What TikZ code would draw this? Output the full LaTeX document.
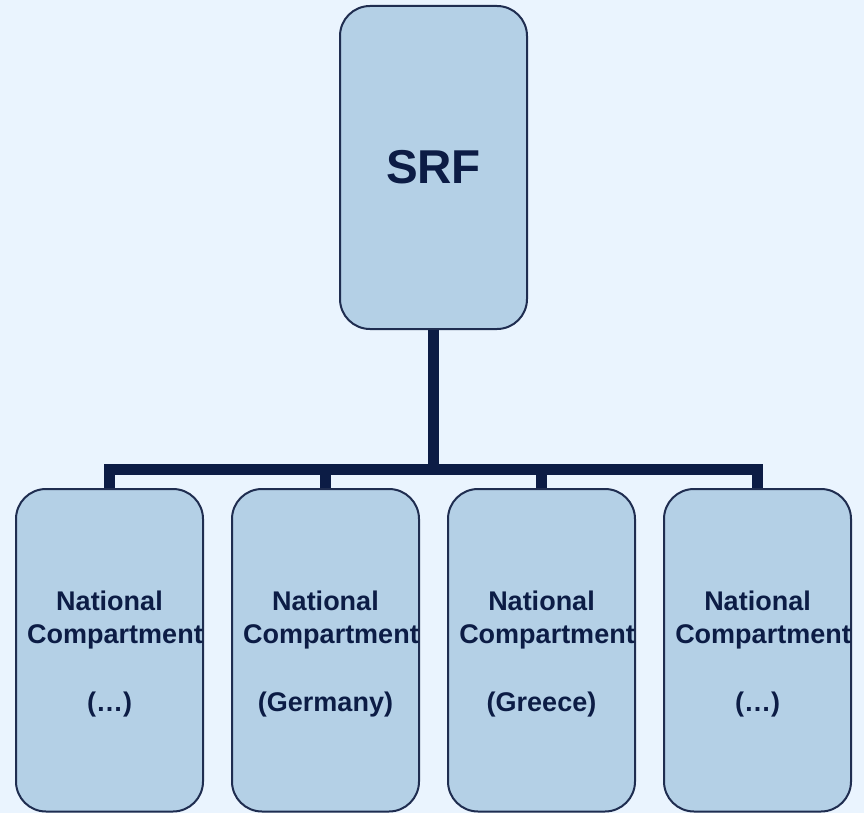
\documentclass[tikz,border=0pt]{standalone}
\usepackage{fontspec}
\setmainfont{Liberation Sans}
\definecolor{bgblue}{HTML}{EAF4FE}
\definecolor{boxblue}{HTML}{B4D0E6}
\definecolor{navy}{HTML}{0C1C45}
\definecolor{edgenavy}{HTML}{1F2D50}
\tikzset{
  orgbox/.style={draw=edgenavy, line width=2pt, fill=boxblue, rounded corners=30pt,
    minimum width=187pt, inner sep=0pt},
  link/.style={draw=navy, line width=11pt},
  comptext/.style={text=navy, font=\fontsize{27}{33}\selectfont\bfseries,
    align=center, inner sep=0pt}
}
\begin{document}
\begin{tikzpicture}[x=1pt,y=-1pt]
	\fill[bgblue] (0,0) rectangle (864,813);
	\useasboundingbox (0,0) rectangle (864,813);
	% boxes
	\node[orgbox, minimum height=323pt] (srf) at (433.5,167.5) {};
	\node[text=navy, font=\fontsize{47.5}{50}\selectfont\bfseries] (srf-text) at (srf.center) {SRF};
	\node[orgbox, minimum height=322.5pt] (nc1) at (109.5,650.25) {};
	\node[orgbox, minimum height=322.5pt] (nc2) at (325.5,650.25) {};
	\node[orgbox, minimum height=322.5pt] (nc3) at (541.5,650.25) {};
	\node[orgbox, minimum height=322.5pt] (nc4) at (757.5,650.25) {};
	% connectors
	\coordinate (hub) at (433.5,469);
	\draw[link] (srf.south) -- (hub);
	\draw[link] (nc1.north) |- (hub) -| (nc4.north);
	\draw[link] (nc2.north) |- (hub);
	\draw[link] (nc3.north) |- (hub);
	% labels
	\node[comptext] (nc1-text) at ([yshift=-4pt]nc1.center) {National\\\hspace*{11pt}Compartment\\[35pt](…)};
	\node[comptext] (nc2-text) at ([yshift=-4pt]nc2.center) {National\\\hspace*{11pt}Compartment\\[35pt](Germany)};
	\node[comptext] (nc3-text) at ([yshift=-4pt]nc3.center) {National\\\hspace*{11pt}Compartment\\[35pt](Greece)};
	\node[comptext] (nc4-text) at ([yshift=-4pt]nc4.center) {National\\\hspace*{11pt}Compartment\\[35pt](…)};
\end{tikzpicture}
\end{document}
